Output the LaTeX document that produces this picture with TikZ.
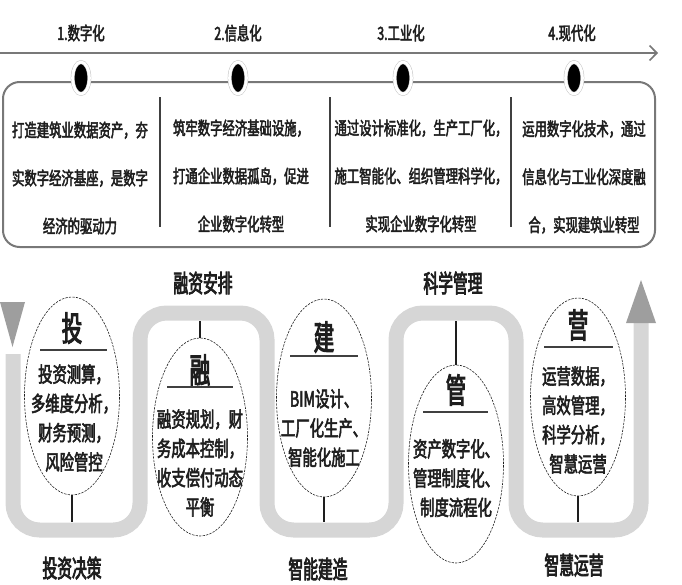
\documentclass[tikz,border=0pt]{standalone}
\usepackage{fontspec}
\usepackage{xcolor}
\usepackage{tikz}
\usetikzlibrary{shapes.geometric,arrows.meta,positioning}
\newfontfamily\cjk{Noto Sans CJK SC}[FakeStretch=0.68,FakeBold=2.5]
\newfontfamily\cjkc{Noto Sans CJK SC}[FakeStretch=0.6,FakeBold=3]
\definecolor{linegray}{RGB}{120, 120, 120}
\definecolor{bandgray}{RGB}{214, 214, 214}
\definecolor{tipgray}{RGB}{158, 158, 158}
\definecolor{inkblack}{RGB}{30, 30, 30}

\tikzset{
  stage/.style={draw=inkblack, fill=white, ellipse, dash pattern=on 2pt off 1pt, line width=0.5pt,
    minimum width=28.5mm, minimum height=59.4mm, inner sep=0pt},
  stagetitle/.style={font=\cjkc\fontsize{29}{29}\selectfont, text=inkblack, inner sep=0pt},
  stagetext/.style={font=\cjk\fontsize{18}{25}\selectfont, align=center, text=inkblack, inner sep=0pt},
  coltext/.style={font=\cjk\fontsize{15.5}{41}\selectfont, align=center, text=inkblack, inner sep=0pt},
  flowlabel/.style={font=\cjkc\fontsize{21}{21}\selectfont, text=inkblack},
  phaselabel/.style={font=\cjk\fontsize{15.5}{15.5}\selectfont, text=inkblack},
  milestone/.style={ellipse, fill=black, draw=black!25, double=white, double distance=2.5pt,
    minimum width=5mm, minimum height=9.6mm, inner sep=0pt},
  stub/.style={inkblack, line width=0.6mm},
  rule/.style={inkblack!85, line width=0.45mm}
}

\begin{document}
\begin{tikzpicture}[x=0.3mm, y=-0.3mm, >=Stealth]
        \useasboundingbox (0,0) rectangle (682,584);

        % Timeline on top
        \coordinate (tl-start) at (0,53);
        \coordinate (tl-end) at (658,53);
        \draw[linegray, line width=0.5mm, -{Straight Barb[length=2.2mm, width=4.5mm]}] (tl-start) -- (tl-end);
        \node[phaselabel] (h1) at (81,33) {1.数字化};
        \node[phaselabel] (h2) at (238,33) {2.信息化};
        \node[phaselabel] (h3) at (401,33) {3.工业化};
        \node[phaselabel] (h4) at (572,33) {4.现代化};

        % Frame with four columns
        \draw[linegray, line width=0.6mm, rounded corners=5mm] (3,82) rectangle (655,247);
        \foreach \x in {160,330,511}
            \draw[rule] (\x,97) -- (\x,227);
        \node[coltext] (c1) at (80,178) {打造建筑业数据资产，夯\\实数字经济基座，是数字\\经济的驱动力};
        \node[coltext] (c2) at (241,176) {筑牢数字经济基础设施，\\打通企业数据孤岛，促进\\企业数字化转型};
        \node[coltext] (c3) at (421,176) {通过设计标准化，生产工厂化，\\施工智能化、组织管理科学化，\\实现企业数字化转型};
        \node[coltext] (c4) at (584,177) {运用数字化技术，通过\\信息化与工业化深度融\\合，实现建筑业转型};
        \foreach \x/\n in {81/1, 238/2, 403/3, 574/4}
            \node[milestone] (d\n) at (\x,78) {};

        % Serpentine band
        \draw[bandgray, line width=4.5mm, rounded corners=8mm] (13,354) -- (13,530) -- (140,530) -- (140,313)
            -- (267,313) -- (267,530) -- (396,530) -- (396,313) -- (516,313) -- (516,530) -- (641,530) -- (641,322);
        \fill[tipgray] (0,302) -- (25,302) -- (12.5,347) -- cycle;
        \fill[tipgray] (626,323) -- (656,323) -- (641,280) -- cycle;
        \coordinate (b1) at (72,522);
        \coordinate (b2) at (200,321);
        \coordinate (b3) at (324,522);
        \coordinate (b4) at (456,321);
        \coordinate (b5) at (578,522);

        % Stage 1
        \node[stage] (e1) at (72,396) {};
        \node[stagetitle] (t1) at (72,328) {投};
        \draw[rule] (40,350) -- (107,350);
        \node[stagetext] (s1) at (74,418) {投资测算，\\多维度分析，\\财务预测，\\风险管控};
        \draw[stub] (e1.south) -- (b1);

        % Stage 2
        \node[stage] (e2) at (200,437) {};
        \node[stagetitle] (t2) at (200,370) {融};
        \draw[rule] (167,387) -- (233,387);
        \node[stagetext] (s2) at (200,463) {融资规划，财\\务成本控制，\\收支偿付动态\\平衡};
        \draw[stub] (e2.north) -- (b2);

        % Stage 3
        \node[stage] (e3) at (324,398) {};
        \node[stagetitle] (t3) at (324,337) {建};
        \draw[rule] (290,356) -- (358,356);
        \node[stagetext] (s3) at (324,428) {BIM设计、\\工厂化生产、\\智能化施工};
        \draw[stub] (e3.south) -- (b3);

        % Stage 4
        \node[stage] (e4) at (456,464) {};
        \node[stagetitle] (t4) at (456,390) {管};
        \draw[rule] (423,412) -- (488,412);
        \node[stagetext] (s4) at (456,478) {资产数字化、\\管理制度化、\\制度流程化};
        \draw[stub] (e4.north) -- (b4);

        % Stage 5
        \node[stage] (e5) at (578,397) {};
        \node[stagetitle] (t5) at (578,325) {营};
        \draw[rule] (544,347) -- (613,347);
        \node[stagetext] (s5) at (578,420) {运营数据，\\高效管理，\\科学分析，\\智慧运营};
        \draw[stub] (e5.south) -- (b5);

        % Band labels
        \node[flowlabel] (f1) at (72,568) {投资决策};
        \node[flowlabel] (f2) at (203,283) {融资安排};
        \node[flowlabel] (f3) at (318,569) {智能建造};
        \node[flowlabel] (f4) at (453,283) {科学管理};
        \node[flowlabel] (f5) at (574,565) {智慧运营};
    \end{tikzpicture}
\end{document}
